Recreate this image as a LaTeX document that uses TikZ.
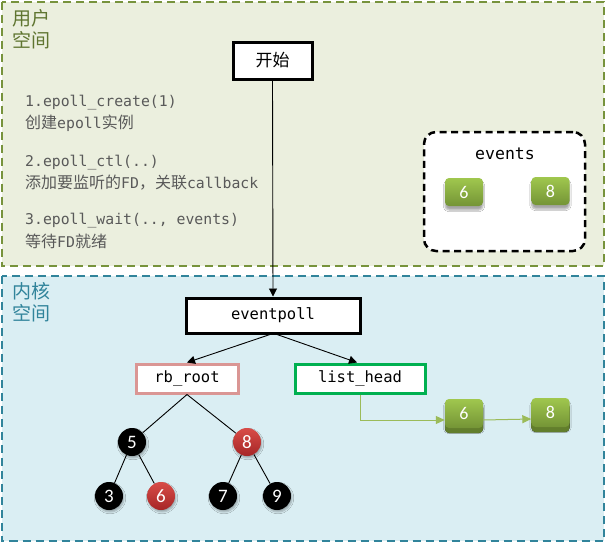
\documentclass[tikz,border=0pt]{standalone}
\usepackage{fontspec}
\setmonofont{DejaVu Sans Mono}
\newfontfamily\cjk{Noto Sans CJK SC}
\newfontfamily\digitfont{Carlito}
\usetikzlibrary{arrows.meta,shadows,shadows.blur}
\definecolor{userfill}{RGB}{235,239,222}
\definecolor{userdraw}{RGB}{119,147,60}
\definecolor{userlbl}{RGB}{95,117,48}
\definecolor{kernfill}{RGB}{218,238,243}
\definecolor{kerndraw}{RGB}{49,132,155}
\definecolor{rbdraw}{RGB}{218,150,148}
\definecolor{lhdraw}{RGB}{0,176,80}
\definecolor{btntop}{RGB}{160,199,78}
\definecolor{btnbot}{RGB}{116,148,54}
\definecolor{btnbase}{RGB}{98,126,44}
\definecolor{redtop}{RGB}{216,76,72}
\definecolor{redbot}{RGB}{166,38,38}
\definecolor{linkgreen}{RGB}{155,187,89}
\definecolor{textgray}{RGB}{89,89,89}
\newcommand{\lat}[1]{{\ttfamily\fontsize{14.8}{18}\selectfont #1}}
\tikzset{
  region/.style={line width=2pt, dash pattern=on 8pt off 5pt},
  bigbox/.style={draw=black, fill=white, line width=3pt, inner sep=0pt},
  monolbl/.style={font=\fontsize{15.5}{18}\selectfont\ttfamily},
  steptext/.style={anchor=west, text=textgray, inner sep=0pt},
  monoline/.style={steptext, font=\fontsize{14.8}{18}\selectfont\ttfamily},
  cjkline/.style={steptext, font=\cjk\fontsize{16}{18}\selectfont},
  btn/.style={rounded corners=4pt, minimum width=38pt, minimum height=28pt,
    top color=btntop, bottom color=btnbot, text=white, inner sep=0pt,
    font=\digitfont\fontsize{18}{20}\selectfont,
    blur shadow={shadow xshift=0pt, shadow yshift=-4pt, shadow blur steps=6, shadow opacity=35}},
  btnthree/.style={btn, minimum height=29pt,
    copy shadow={shadow xshift=0pt, shadow yshift=-5pt, top color=btnbase, bottom color=btnbase, draw=none}},
  rbnode/.style={circle, minimum size=28pt, inner sep=0pt, text=white,
    font=\digitfont\fontsize{19}{20}\selectfont,
    blur shadow={shadow xshift=1pt, shadow yshift=-2pt, shadow blur steps=5, shadow opacity=30}},
  blacknode/.style={rbnode, fill=black},
  rednode/.style={rbnode, top color=redtop, bottom color=redbot},
  arr/.style={draw=black, line width=0.9pt, -{Triangle[length=8pt,width=8pt]}},
  garr/.style={draw=linkgreen, line width=1pt, -{Triangle[length=9pt,width=8pt]}},
  treeline/.style={draw=black, line width=0.9pt}
}
\begin{document}
\begin{tikzpicture}[x=1pt,y=-1pt]
\useasboundingbox (0,0) rectangle (605,542);
% regions
\draw[region, draw=userdraw, fill=userfill] (1.5,1.5) rectangle (603.5,266);
\draw[region, draw=kerndraw, fill=kernfill] (1.5,276) rectangle (603.5,541);
\node[anchor=north west, align=left, text=userlbl, inner sep=0pt,
  font=\cjk\fontsize{19}{22}\selectfont] (ulbl) at (12,9) {用户\\空间};
\node[anchor=north west, align=left, text=kerndraw, inner sep=0pt,
  font=\cjk\fontsize{19}{22}\selectfont] (klbl) at (12,282) {内核\\空间};
% start
\node[bigbox, minimum width=79pt, minimum height=37pt, font=\cjk\fontsize{17}{20}\selectfont] (start) at (272.5,60.5) {开始};
% steps text
\node[monoline] (s1a) at (25,103) {1.epoll\_create(1)};
\node[cjkline] (s1b) at (25,123) {创建\lat{epoll}实例};
\node[monoline] (s2a) at (25,163) {2.epoll\_ctl(..)};
\node[cjkline] (s2b) at (25,183) {添加要监听的\lat{FD}，关联\lat{callback}};
\node[monoline] (s3a) at (25,221) {3.epoll\_wait(.., events)};
\node[cjkline] (s3b) at (25,241) {等待\lat{FD}就绪};
% events box
\node[draw=black, fill=white, line width=2.5pt, dash pattern=on 7pt off 4.5pt,
  rounded corners=12pt, minimum width=161pt, minimum height=119pt, inner sep=0pt] (evbox) at (504.5,191.5) {};
\node[font=\fontsize{16.5}{18}\selectfont\ttfamily, inner sep=0pt] (evlbl) at (505,154) {events};
\node[btn] (e6) at (464,192) {6};
\node[btn] (e8) at (550.5,191) {8};
% kernel
\node[bigbox, monolbl, minimum width=174pt, minimum height=35pt] (ep) at (273,315.5) {eventpoll};
\node[draw=rbdraw, fill=white, line width=3pt, monolbl, minimum width=102pt, minimum height=29pt, inner sep=0pt] (rb) at (187,378.5) {rb\_root};
\node[draw=lhdraw, fill=white, line width=3pt, monolbl, minimum width=130pt, minimum height=29pt, inner sep=0pt] (lh) at (360,378.5) {list\_head};
\draw[arr] (start.south) -- (ep.north);
\draw[arr] ([xshift=-3pt]ep.south) -- (rb.north);
\draw[arr] ([xshift=4pt]ep.south) -- ([xshift=-3pt]lh.north);
% tree
\node[blacknode] (t5) at (132,442) {5};
\node[rednode] (t8) at (247,442) {8};
\node[blacknode] (t3) at (109,496) {3};
\node[rednode] (t6) at (161,496) {6};
\node[blacknode] (t7) at (223,496) {7};
\node[blacknode] (t9) at (277,496) {9};
\draw[treeline] (rb.south) -- (t5);
\draw[treeline] (rb.south) -- (t8);
\draw[treeline] (t5) -- (t3);
\draw[treeline] (t5) -- (t6);
\draw[treeline] (t8) -- (t7);
\draw[treeline] (t8) -- (t9);
% ready list
\node[btnthree] (k6) at (464,413.5) {6};
\node[btnthree] (k8) at (550.5,412.5) {8};
\draw[garr] (lh.south) |- ([yshift=-6.5pt]k6.west);
\draw[garr] ([yshift=-6.5pt]k6.east) -- ([yshift=-6.5pt]k8.west);
\end{tikzpicture}
\end{document}
